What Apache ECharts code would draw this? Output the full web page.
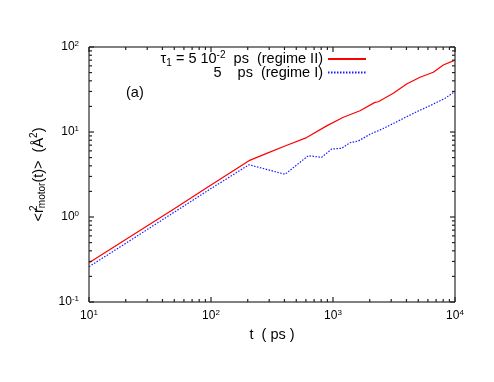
<!DOCTYPE html>
<html><head><meta charset="utf-8">
<script src="https://cdn.jsdelivr.net/npm/echarts@6/dist/echarts.min.js"></script>
<style>html,body{margin:0;padding:0;background:#fff}#c{width:494px;height:382px}</style>
</head><body><div id="c"></div>
<script>
// ---- data ----
const seriesNames = ['tau1 = 5e-2 ps (regime II)', 'tau1 = 5 ps (regime I)'];
const redT  = [10, 20, 50, 100, 205, 286, 404, 608, 887, 1216, 1664, 2208, 2350, 3120, 4015, 5165, 6640, 8020, 10000];
const redY  = [0.29, 0.545, 1.25, 2.38, 4.6, 5.6, 6.85, 8.6, 11.8, 14.9, 17.8, 22.3, 22.7, 28.5, 36.7, 44, 50.4, 61.4, 70];
const blueT = [10, 20, 50, 100, 205, 404, 627, 807, 975, 1178, 1377, 1614, 2009, 2584, 3540, 4850, 6640, 8280, 10000];
const blueY = [0.26, 0.49, 1.14, 2.16, 4.12, 3.18, 5.26, 5.04, 6.3, 6.43, 7.48, 7.84, 9.4, 11.0, 13.8, 17.3, 21.3, 24.9, 30];
const xMajorTicks = [10, 100, 1000, 10000];
const xMinorTicks = [20, 30, 40, 50, 60, 70, 80, 90, 200, 300, 400, 500, 600, 700, 800, 900, 2000, 3000, 4000, 5000, 6000, 7000, 8000, 9000];
const yMajorTicks = [0.1, 1, 10, 100];
const yMinorTicks = [0.2, 0.3, 0.4, 0.5, 0.6, 0.7, 0.8, 0.9, 2, 3, 4, 5, 6, 7, 8, 9, 20, 30, 40, 50, 60, 70, 80, 90];
const xTitle = 't  ( ps )';
const panelLabel = '(a)';

const F = '"Liberation Sans", Arial, Helvetica, sans-serif';
const xMin = 10, xMax = 10000, yMin = 0.1, yMax = 100;

const zip = (a, b) => a.map((v, i) => [v, b[i]]);
// tick items: [x, y, axis(0=x,1=y), side(0=bottom/left,1=top/right), length]
const tickData = [];
[0, 1].forEach(side => {
  xMajorTicks.forEach(v => tickData.push([v, 1, 0, side, 5]));
  xMinorTicks.forEach(v => tickData.push([v, 1, 0, side, 3]));
  yMajorTicks.forEach(v => tickData.push([10, v, 1, side, 5]));
  yMinorTicks.forEach(v => tickData.push([10, v, 1, side, 3]));
});

const richBase = {
  n:   {fontSize: 14.5, lineHeight: 18, fontFamily: F, color: '#000'},
  sup: {fontSize: 10, lineHeight: 10, fontFamily: F, color: '#000', padding: [0, 0, 8, 0]},
  sup0:{fontSize: 10, lineHeight: 10, fontFamily: F, color: '#000', padding: [0, 0, 8, 0], width: 0},
  sub: {fontSize: 10, lineHeight: 10, fontFamily: F, color: '#000', padding: [8, 0, 0, 0]}
};
const tickRich = {
  b: {fontSize: 12, lineHeight: 14, fontFamily: F, color: '#000'},
  e: {fontSize: 8, lineHeight: 8, fontFamily: F, color: '#000', padding: [0, 0, 6, 0]}
};
const expFmt = v => '{b|10}{e|' + Math.round(Math.log10(v)) + '}';

const chart = echarts.init(document.getElementById('c'));
chart.setOption({
  animation: false,
  backgroundColor: '#fff',
  grid: {left: 89, top: 47, width: 366, height: 255, show: true, borderColor: '#000', borderWidth: 1, backgroundColor: 'transparent'},
  legend: {
    data: seriesNames,
    orient: 'vertical', align: 'right',
    right: 127, top: 50, padding: 0,
    itemWidth: 38, itemHeight: 14, itemGap: -3,
    itemStyle: {opacity: 0},
    formatter: name => name === seriesNames[0]
      ? '{n|τ}{sub|1}{n| = 5 10}{sup|-2}{n|  ps  (regime II)}'
      : '{n|5    ps  (regime I)}',
    textStyle: {rich: richBase, fontSize: 14.5, fontFamily: F, color: '#000'}
  },
  xAxis: {
    type: 'log', logBase: 10, min: xMin, max: xMax,
    axisLine: {show: false}, axisTick: {show: false}, splitLine: {show: false},
    axisLabel: {margin: 7, formatter: expFmt, rich: tickRich},
    name: xTitle, nameLocation: 'middle', nameGap: 19,
    nameTextStyle: {fontSize: 14.5, fontFamily: F, color: '#000', verticalAlign: 'top'}
  },
  yAxis: {
    type: 'log', logBase: 10, min: yMin, max: yMax,
    axisLine: {show: false}, axisTick: {show: false}, splitLine: {show: false},
    axisLabel: {margin: 10, formatter: expFmt, rich: tickRich},
    name: '{n|<r}{sup0|2}{sub|motor}{n|(t)>  (Å}{sup|2}{n|)}',
    nameLocation: 'middle', nameRotate: 90, nameGap: 40,
    nameTextStyle: {rich: richBase, fontSize: 14.5, fontFamily: F, color: '#000'}
  },
  graphic: [
    {type: 'text', left: 126, top: 85, style: {text: panelLabel, font: '14.5px ' + F, fill: '#000'}}
  ],
  series: [
    {name: seriesNames[0], type: 'line', data: zip(redT, redY), symbol: 'none', showSymbol: false,
     lineStyle: {color: '#ff0000', width: 1.2}, itemStyle: {color: '#ff0000'}},
    {name: seriesNames[1], type: 'line', data: zip(blueT, blueY), symbol: 'none', showSymbol: false,
     lineStyle: {color: '#1a1aff', width: 1.2, type: [1.5, 1.5]}, itemStyle: {color: '#1a1aff'}},
    {name: 'ticks', type: 'custom', data: tickData, z: 5,
     renderItem: function (params, api) {
       const cs = params.coordSys;
       const axis = api.value(2), side = api.value(3), len = api.value(4);
       const st = {stroke: '#222', lineWidth: 1.2};
       if (axis === 0) {
         const px = api.coord([api.value(0), yMin])[0];
         const y0 = side === 0 ? cs.y + cs.height : cs.y;
         const y1 = side === 0 ? y0 - len : y0 + len;
         return {type: 'line', shape: {x1: px, y1: y0, x2: px, y2: y1}, style: st};
       }
       const py = api.coord([xMin, api.value(1)])[1];
       const x0 = side === 0 ? cs.x : cs.x + cs.width;
       const x1 = side === 0 ? x0 + len : x0 - len;
       return {type: 'line', shape: {x1: x0, y1: py, x2: x1, y2: py}, style: st};
     }}
  ]
});
</script></body></html>
